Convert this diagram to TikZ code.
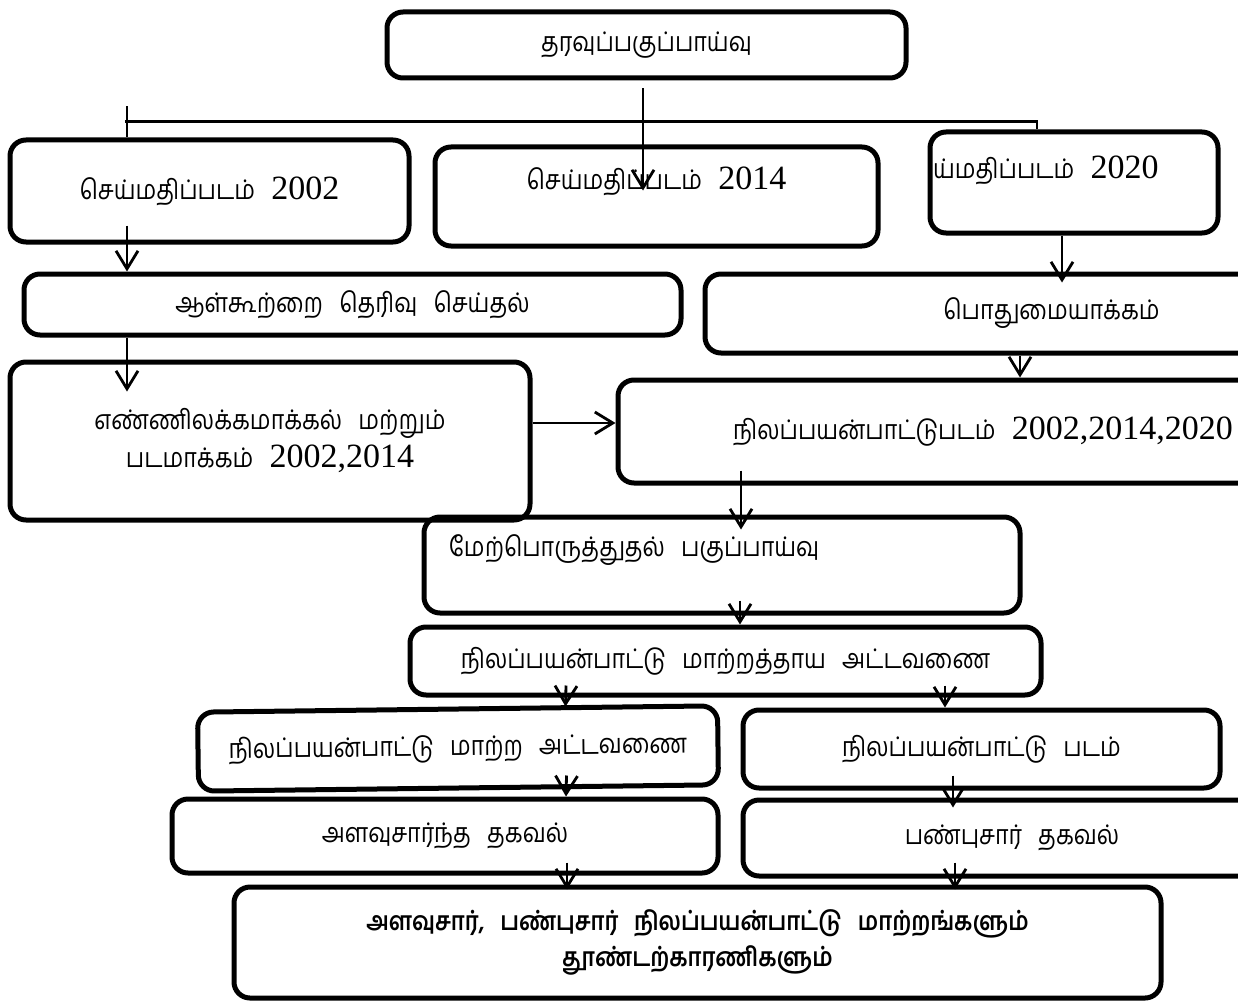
\documentclass[tikz,border=0pt]{standalone}
\usepackage{fontspec}
\setmainfont{Liberation Serif}
\newfontfamily\tamil[Script=Tamil, FakeStretch=0.86]{Hind Madurai}
\usetikzlibrary{arrows.meta, positioning}
\newcommand{\yr}[1]{{\normalfont\fontsize{34}{38}\selectfont #1}}
\newcommand{\gap}{\hspace{0.6em}}

\begin{document}
\begin{tikzpicture}[x=1pt, y=-1pt,
    txt/.style={font=\tamil\fontsize{27}{38}\selectfont, align=center},
    box/.style={rectangle, draw, line width=5pt, rounded corners=16pt, inner sep=0pt, txt},
    arr/.style={-{Straight Barb[length=18pt,width=22pt]}, line width=2.8pt}]

    \useasboundingbox (0,0) rectangle (1238,1003);

    % boxes
    \node[box, minimum width=519pt, minimum height=66pt] (data) at (646.5,45) {தரவுப்பகுப்பாய்வு};
    \node[box, minimum width=399pt, minimum height=102pt] (sat02) at (209.5,191) {செய்மதிப்படம்\gap\yr{2002}};
    \node[box, minimum width=443pt, minimum height=99pt,
          label={[txt, yshift=15pt]center:{செய்மதிப்படம்\gap\yr{2014}}}] (sat14) at (656.5,196.5) {};
    \node[box, minimum width=288pt, minimum height=101pt,
          label={[txt, anchor=west, xshift=2pt, yshift=12pt]west:{ய்மதிப்படம்\gap\yr{2020}}}] (sat20) at (1074,182.5) {};
    \node[box, minimum width=657pt, minimum height=61pt] (alk) at (352.5,304.5) {ஆள்கூற்றை\gap தெரிவு\gap செய்தல்};
    \node[box, minimum width=693pt, minimum height=79pt] (pothu) at (1051.5,313.5) {பொதுமையாக்கம்};
    \node[box, minimum width=520pt, minimum height=158pt] (enn) at (270,441) {எண்ணிலக்கமாக்கல்\gap மற்றும்\\படமாக்கம்\gap\yr{2002,2014}};
    \node[box, minimum width=730pt, minimum height=103pt] (nilam) at (983,431.5) {நிலப்பயன்பாட்டுபடம்\gap\yr{2002,2014,2020}};
    \node[box, minimum width=596pt, minimum height=96pt,
          label={[txt, xshift=-88pt, yshift=15pt]center:{மேற்பொருத்துதல்\gap பகுப்பாய்வு}}] (mer) at (722,565) {};
    \node[box, minimum width=631pt, minimum height=68pt] (tai) at (725.5,661) {நிலப்பயன்பாட்டு\gap மாற்றத்தாய\gap அட்டவணை};
    \node[box, minimum width=520pt, minimum height=79pt, rotate=0.7] (mat) at (458,748.5) {நிலப்பயன்பாட்டு\gap மாற்ற\gap அட்டவணை};
    \node[box, minimum width=477pt, minimum height=78pt] (padam) at (981.5,749) {நிலப்பயன்பாட்டு\gap படம்};
    \node[box, minimum width=546pt, minimum height=74pt] (alavu) at (445,836) {அளவுசார்ந்த\gap தகவல்};
    \node[box, minimum width=538pt, minimum height=76pt] (panbu) at (1012,838) {பண்புசார்\gap தகவல்};
    \node[box, minimum width=927pt, minimum height=111pt, font=\tamil\bfseries\fontsize{26}{36}\selectfont] (final) at (697.5,942.5)
         {அளவுசார்,\gap பண்புசார்\gap நிலப்பயன்பாட்டு\gap மாற்றங்களும்\\தூண்டற்காரணிகளும்};

    % connectors
    \draw[arr] ([xshift=-3.5pt,yshift=-8pt]data.south) -- ([xshift=-3.5pt,yshift=-110pt]data.south);
    \draw[line width=2.8pt] ([xshift=-84.5pt,yshift=16pt]sat02.north) -| ([xshift=-37pt]sat20.north);
    \draw[line width=2.8pt] ([xshift=-82.5pt,yshift=31pt]sat02.north) -- ([xshift=-82.5pt]sat02.north);
    \draw[arr] ([xshift=-82.5pt,yshift=19pt]sat02.south) -- ([xshift=-225.5pt]alk.north);
    \draw[arr] ([xshift=-225.5pt]alk.south) -- ([xshift=-143pt,yshift=-32pt]enn.north);
    \draw[arr] ([xshift=-12pt]sat20.south) -- ([xshift=10.5pt,yshift=-11pt]pothu.north);
    \draw[arr] ([xshift=-31.5pt]pothu.south) -- ([xshift=37pt]nilam.north);
    \draw[arr] ([yshift=18pt]enn.east) -- ([yshift=8.5pt]nilam.west);
    \draw[arr] ([xshift=-242pt,yshift=15pt]nilam.south) -- ([xshift=19pt,yshift=-15pt]mer.north);
    \draw[arr] ([xshift=18pt,yshift=15pt]mer.south) -- ([xshift=14.5pt]tai.north);
    \draw[arr] ([xshift=-159.5pt,yshift=12pt]tai.south) -- ([xshift=108pt]mat.north);
    \draw[arr] ([xshift=219.5pt,yshift=12pt]tai.south) -- ([xshift=-36.5pt]padam.north);
    \draw[arr] ([xshift=108pt,yshift=15pt]mat.south) -- ([xshift=121pt]alavu.north);
    \draw[arr] ([xshift=-28.5pt,yshift=15pt]padam.south) -- ([xshift=-59pt,yshift=-10pt]panbu.north);
    \draw[arr] ([xshift=122pt,yshift=13pt]alavu.south) -- ([xshift=-130.5pt,yshift=-5pt]final.north);
    \draw[arr] ([xshift=-57pt,yshift=16pt]panbu.south) -- ([xshift=257.5pt,yshift=-5pt]final.north);
\end{tikzpicture}
\end{document}
